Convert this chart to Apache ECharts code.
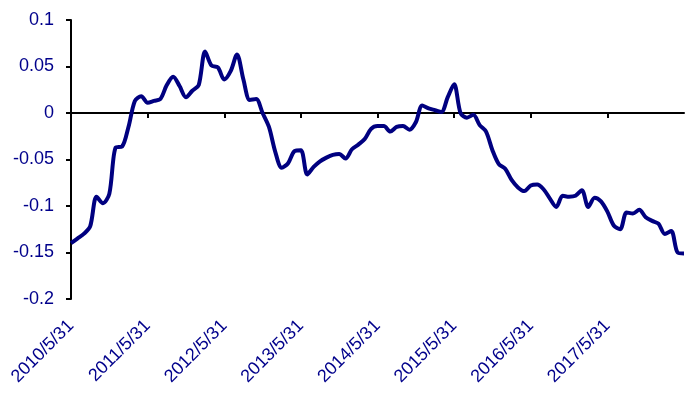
<!DOCTYPE html>
<html>
<head>
<meta charset="utf-8">
<script src="https://cdn.jsdelivr.net/npm/echarts@6/dist/echarts.min.js"></script>
<style>
html,body{margin:0;padding:0;background:#fff;}
#chart{width:693px;height:402px;}
</style>
</head>
<body>
<div id="chart"></div>
<script>
// Monthly month-end dates from 2010/5/31 to 2018/5/31
var startYear = 2010, startMonth = 5, monthCount = 97;
var categories = [];
for (var k = 0; k < monthCount; k++) {
  var m0 = startMonth - 1 + k;
  var y = startYear + Math.floor(m0 / 12);
  var m = m0 % 12;
  var d = new Date(y, m + 1, 0).getDate();
  categories.push(y + '/' + (m + 1) + '/' + d);
}

var values = [
  -0.140, -0.135, -0.130, -0.122, -0.090, -0.097, -0.087, -0.037, -0.036, -0.015,
   0.013,  0.018,  0.011,  0.013,  0.015,  0.030,  0.039,  0.029,  0.017,  0.024,
   0.030,  0.066,  0.051,  0.049,  0.036,  0.045,  0.063,  0.036,  0.014,  0.015,
   0.000, -0.015, -0.042, -0.059, -0.054, -0.041, -0.040, -0.066, -0.058, -0.052,
  -0.048, -0.045, -0.044, -0.049, -0.039, -0.034, -0.028, -0.017, -0.014, -0.014,
  -0.020, -0.015, -0.014, -0.018, -0.010,  0.008,  0.005,  0.003,  0.001,  0.017,
   0.031,  0.000, -0.005, -0.002, -0.013, -0.020, -0.040, -0.055, -0.060, -0.072,
  -0.080, -0.084, -0.078, -0.077, -0.082, -0.092, -0.101, -0.089, -0.090, -0.089,
  -0.083, -0.101, -0.091, -0.095, -0.106, -0.121, -0.125, -0.107, -0.108, -0.104,
  -0.112, -0.116, -0.119, -0.130, -0.127, -0.150, -0.151
];

var yMin = -0.2, yMax = 0.1, yStep = 0.05;
var labelEvery = 12;

var navy = '#000080';
var labelColor = '#00008B';
var fontFam = '"Liberation Sans", Arial, sans-serif';

function showYearly(index) {
  return index % labelEvery === 0 && index < categories.length - 1;
}

var chart = echarts.init(document.getElementById('chart'), null, {renderer: 'canvas'});
chart.setOption({
  animation: false,
  backgroundColor: '#ffffff',
  grid: {left: 71, right: 9, top: 20, bottom: 103, containLabel: false},
  xAxis: [
    {
      type: 'category',
      data: categories,
      boundaryGap: false,
      position: 'bottom',
      axisLine: {show: false, onZero: false},
      axisTick: {show: false},
      splitLine: {show: false},
      axisLabel: {
        interval: showYearly,
        rotate: 45,
        margin: 24,
        color: labelColor,
        fontSize: 18,
        fontFamily: fontFam
      }
    },
    {
      type: 'category',
      data: categories,
      boundaryGap: false,
      position: 'bottom',
      axisLine: {show: true, onZero: true, lineStyle: {color: '#000', width: 2}},
      axisTick: {show: true, interval: showYearly, length: 5, lineStyle: {color: '#000', width: 2}},
      axisLabel: {show: false},
      splitLine: {show: false}
    }
  ],
  yAxis: {
    type: 'value',
    min: yMin,
    max: yMax,
    interval: yStep,
    axisLine: {show: true, lineStyle: {color: '#000', width: 2}},
    axisTick: {show: true, length: 5, lineStyle: {color: '#000', width: 2}},
    splitLine: {show: false},
    axisLabel: {
      margin: 17,
      color: labelColor,
      fontSize: 18,
      fontFamily: fontFam
    }
  },
  series: [{
    type: 'line',
    xAxisIndex: 0,
    data: values,
    showSymbol: false,
    smooth: 0.3,
    lineStyle: {color: navy, width: 4},
    itemStyle: {color: navy}
  }]
});
</script>
</body>
</html>
